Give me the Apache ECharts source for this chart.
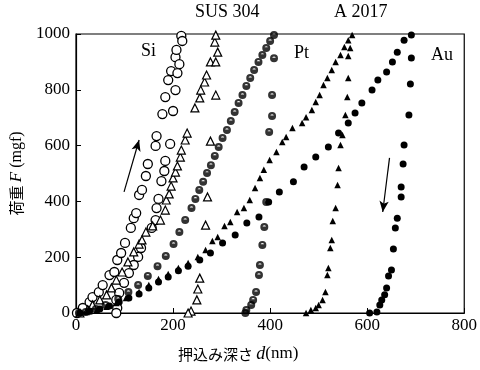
<!DOCTYPE html>
<html><head><meta charset="utf-8">
<script src="https://cdn.jsdelivr.net/npm/echarts@6/dist/echarts.min.js"></script>
<style>html,body{margin:0;padding:0;background:#fff}#c{width:480px;height:370px}</style>
</head><body><div id="c"></div>
<script>
// ---- data (depth nm, load mgf) ----
const siLoad = [[2,0],[14,18],[28,39],[34,57],[47,75],[55,100],[69,136],[79,147],[85,190],[93,215],[101,251],[113,305],[119,340],[124,358],[130,423],[136,441],[144,491],[148,534],[164,599],[166,634],[178,713],[184,774],[190,835],[196,867],[205,917],[207,943],[217,993]];
const siUnload = [[219,975],[213,892],[209,860],[205,799],[200,724],[194,606],[184,545],[182,509],[176,473],[170,409],[166,376],[164,333],[156,305],[134,233],[128,201],[119,172],[109,143],[99,108],[89,72],[83,47],[85,18],[83,0]];
const susLoad = [[8,0],[24,11],[34,29],[49,47],[63,65],[73,90],[83,118],[95,147],[107,183],[119,219],[130,247],[136,262],[144,290],[158,312],[174,333],[184,369],[186,405],[192,427],[196,455],[200,484],[205,505],[209,527],[215,559],[217,584],[225,620],[229,645],[245,735],[255,771],[257,799],[265,828],[269,853],[277,900],[286,971],[288,996]];
const susUnload = [[292,935],[288,900],[288,781],[277,616],[271,416],[267,315],[255,125],[251,86],[249,47],[237,7],[231,0]];
const ptLoad = [[6,0],[20,4],[41,14],[61,29],[87,50],[108,75],[128,100],[148,133],[168,168],[185,204],[201,247],[213,290],[225,333],[238,376],[246,409],[254,441],[262,470],[270,502],[278,530],[286,563],[294,595],[302,627],[311,656],[319,688],[327,720],[335,753],[343,781],[351,814],[359,842],[367,871],[376,900],[384,925],[392,950],[400,975],[408,996]];
const ptUnload = [[408,913],[404,781],[404,706],[398,649],[392,398],[388,308],[384,244],[379,172],[377,136],[371,75],[365,47],[361,29],[351,11],[349,0]];
const alLoad = [[8,0],[22,4],[43,11],[63,22],[83,36],[103,54],[130,75],[150,100],[170,122],[190,140],[211,161],[231,179],[251,201],[267,226],[281,258],[292,272],[306,312],[318,326],[332,362],[346,376],[358,405],[369,448],[379,484],[387,513],[399,548],[413,577],[425,613],[433,631],[446,663],[466,681],[474,702],[486,728],[494,756],[502,781],[510,817],[518,842],[527,871],[535,900],[545,925],[553,953],[561,978],[569,996]];
const alUnload = [[565,950],[561,921],[561,842],[559,774],[555,710],[549,638],[545,602],[541,520],[539,459],[535,376],[529,330],[527,262],[524,233],[520,161],[518,136],[514,75],[508,47],[500,29],[494,18],[484,11],[474,0]];
const auLoad = [[8,0],[28,7],[49,14],[69,25],[89,39],[109,54],[130,68],[150,90],[170,111],[190,129],[211,151],[231,168],[255,190],[277,215],[302,251],[328,280],[352,323],[377,344],[397,398],[419,434],[448,470],[470,523],[494,559],[520,595],[541,645],[561,681],[575,717],[589,753],[610,799],[622,835],[640,864],[652,900],[662,935],[676,978],[691,996]];
const auUnload = [[691,914],[689,821],[686,710],[676,602],[674,534],[670,452],[670,416],[662,340],[658,305],[654,229],[650,154],[644,133],[640,90],[636,65],[630,47],[626,29],[620,4],[605,0]];
const arrowUp = [[99,434],[130,620]];
const arrowDown = [[646,556],[632,362]];
const xTicks = [0,200,400,600,800];
const yTicks = [0,200,400,600,800,1000];

const serif = '"Liberation Serif","DejaVu Serif",serif';
const jp = '"Noto Sans CJK JP","Liberation Serif",serif';
const ptSym = 'path://M0,-10A10,10,0,1,1,0,10A10,10,0,1,1,0,-10ZM0,-4.5A4.5,4.5,0,1,0,0,4.5A4.5,4.5,0,1,0,0,-4.5ZM-4.5,-1.5L4.5,-1.5L4.5,0A4.5,4.5,0,0,1,-4.5,0Z';

function sc(data, symbol, size, fill, bw) {
  return {type:'scatter', data:data, symbol:symbol, symbolSize:size,
    itemStyle:{color:fill, borderColor:'#000', borderWidth:bw, opacity:1}, silent:true, z:3};
}
const chart = echarts.init(document.getElementById('c'), null, {renderer:'canvas'});
chart.setOption({
  animation:false,
  backgroundColor:'#fff',
  grid:{left:76, right:10, top:34, bottom:57, show:true, borderColor:'#000', borderWidth:1.2},
  xAxis:{type:'value', min:xTicks[0], max:xTicks[xTicks.length-1], interval:200,
    axisLine:{lineStyle:{color:'#000', width:1.2}},
    axisTick:{inside:true, length:5, lineStyle:{color:'#000'}},
    axisLabel:{color:'#000', fontFamily:serif, fontSize:17, margin:4, formatter:function(v){return String(v);}},
    splitLine:{show:false}},
  yAxis:{type:'value', min:yTicks[0], max:yTicks[yTicks.length-1], interval:200,
    axisLine:{lineStyle:{color:'#000', width:1.2}},
    axisTick:{inside:true, length:5, lineStyle:{color:'#000'}},
    axisLabel:{color:'#000', fontFamily:serif, fontSize:17, margin:6, formatter:function(v){return String(v);}},
    splitLine:{show:false},
    name:'{j|荷重 }{i|F}{s| (mgf)}', nameLocation:'middle', nameRotate:90, nameGap:50,
    nameTextStyle:{rich:{
      j:{fontFamily:jp, fontSize:15, color:'#000'},
      i:{fontFamily:serif, fontStyle:'italic', fontSize:17, color:'#000'},
      s:{fontFamily:serif, fontSize:16, color:'#000'}}}},
  graphic:[
    {type:'text', left:141, top:42, style:{text:'Si', font:'18px '+serif, fill:'#000'}},
    {type:'text', left:195, top:3, style:{text:'SUS 304', font:'18px '+serif, fill:'#000'}},
    {type:'text', left:294, top:44, style:{text:'Pt', font:'18px '+serif, fill:'#000'}},
    {type:'text', left:334, top:3, style:{text:'A 2017', font:'18px '+serif, fill:'#000'}},
    {type:'text', left:431, top:46, style:{text:'Au', font:'18px '+serif, fill:'#000'}},
    {type:'text', left:178, top:345, style:{text:'{j|押込み深さ }{i|d}{s|(nm)}', rich:{
      j:{fontFamily:jp, fontSize:15, fill:'#000'},
      i:{fontFamily:serif, fontStyle:'italic', fontSize:18, fill:'#000'},
      s:{fontFamily:serif, fontSize:17, fill:'#000'}}}}
  ],
  series:[
    sc(siLoad,'circle',9,'#fff',1.3),
    sc(siUnload,'circle',9,'#fff',1.3),
    sc(susLoad,'triangle',8,'#fff',1.2),
    sc(susUnload,'triangle',8,'#fff',1.2),
    {type:'scatter', data:ptLoad.concat(ptUnload), symbol:ptSym, symbolSize:8, itemStyle:{color:'#000'}, silent:true, z:3},
    sc(alLoad,'triangle',6.5,'#000',0),
    sc(alUnload,'triangle',6.5,'#000',0),
    sc(auLoad,'circle',7,'#000',0),
    sc(auUnload,'circle',7,'#000',0),
    {type:'scatter', data:[], silent:true,
      markLine:{silent:true, animation:false, symbol:['none','arrow'], symbolSize:[7,11],
        label:{show:false}, lineStyle:{color:'#000', width:1.2, type:'solid'},
        data:[[{coord:arrowUp[0]},{coord:arrowUp[1]}],[{coord:arrowDown[0]},{coord:arrowDown[1]}]]}}
  ]
});
</script></body></html>
